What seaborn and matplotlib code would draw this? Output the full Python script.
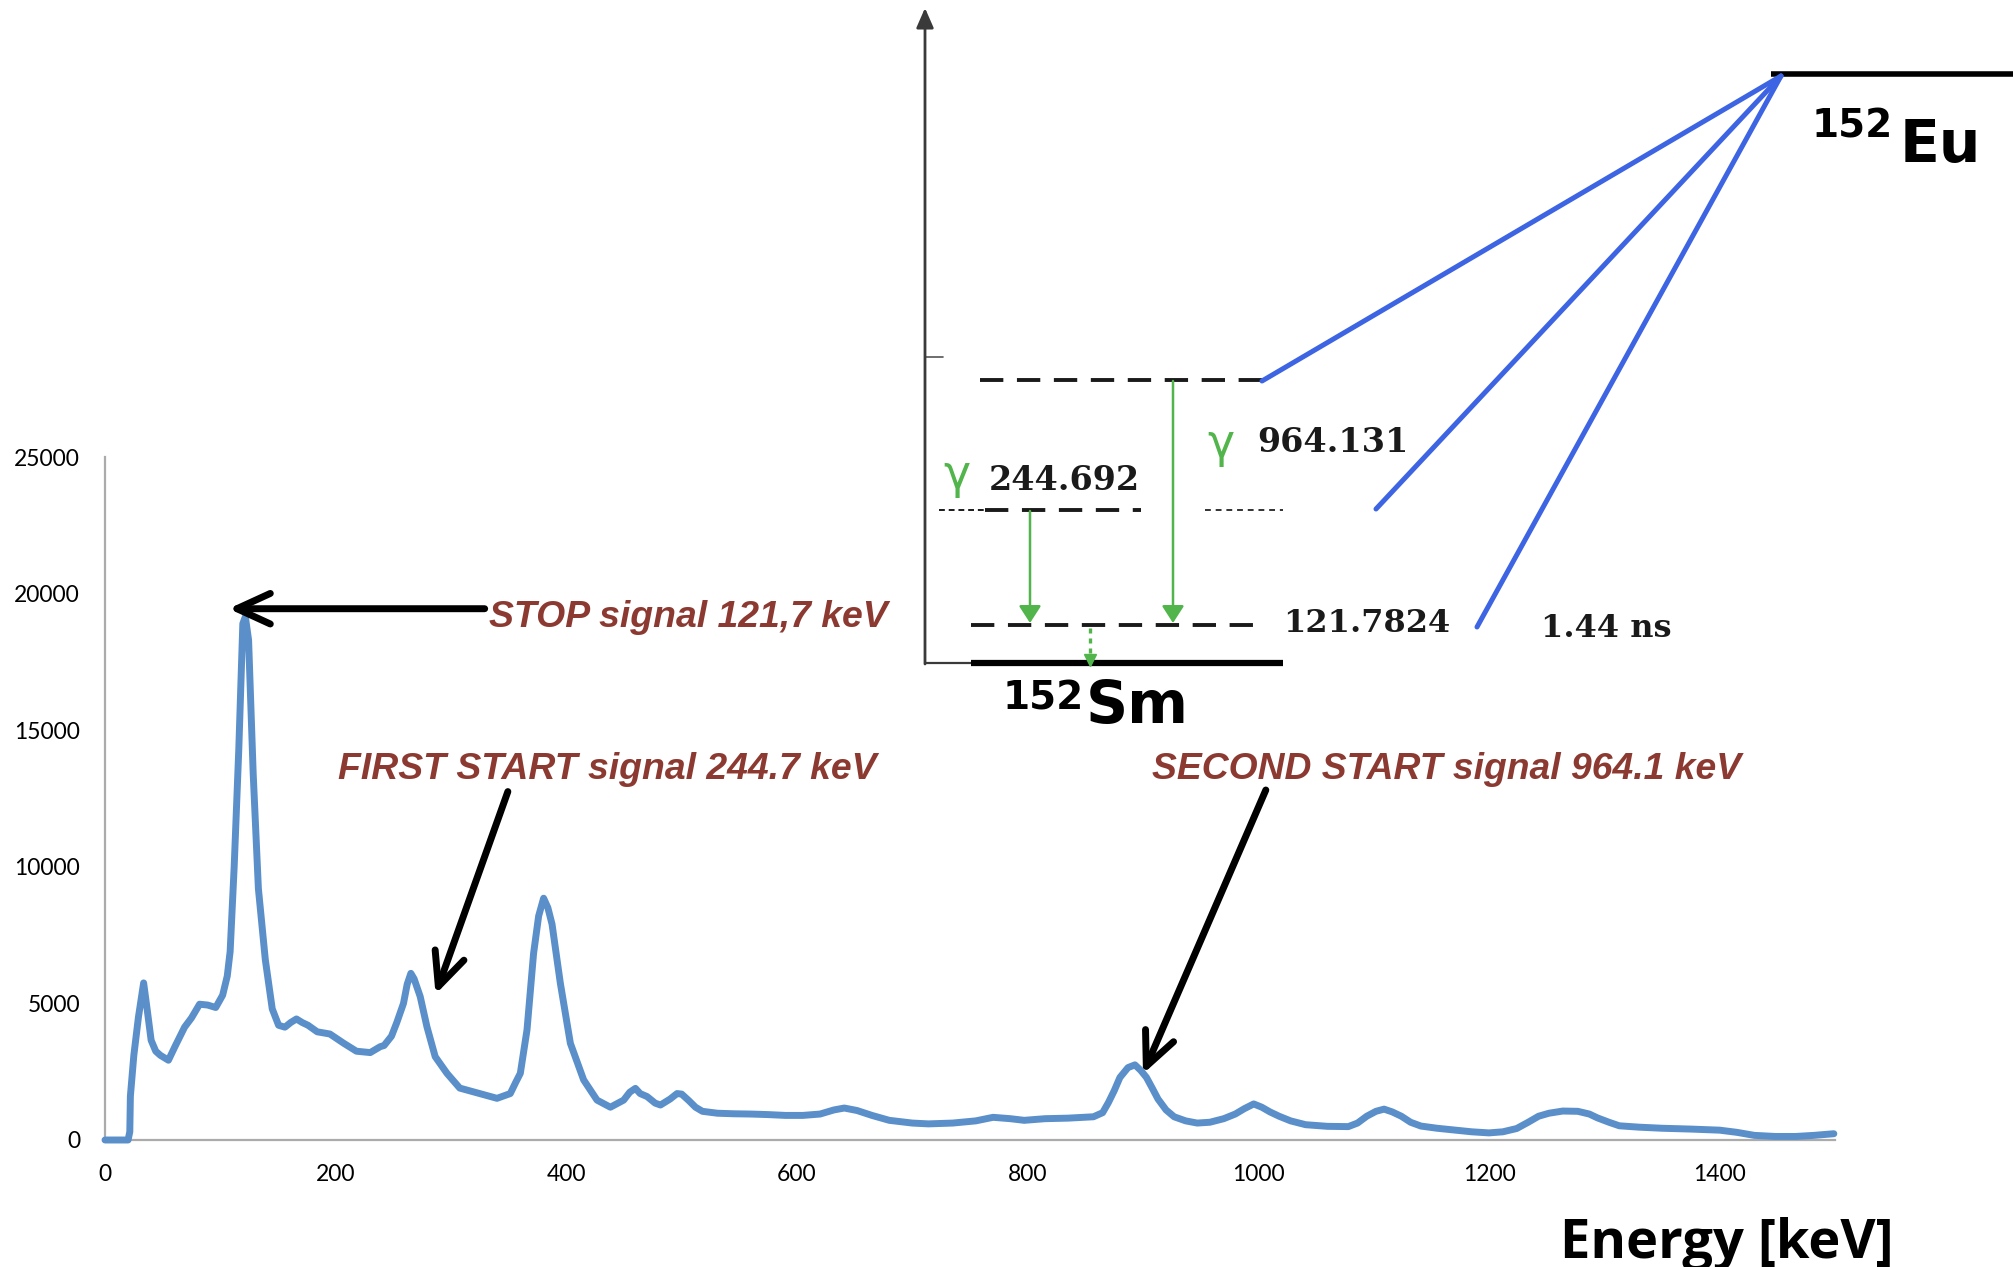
import matplotlib
matplotlib.use("Agg")
import matplotlib.pyplot as plt
import pandas as pd
import seaborn as sns

# ---------------- spectrum data (keV, counts) ----------------
energy_kev = [0, 10, 20, 21.5, 22, 25, 29, 33.5, 36.5, 40, 44, 48, 55, 61, 69, 75, 82,
              89, 96, 102, 106, 108.5, 112, 116, 119.5, 121.7, 124.5, 128.5, 133, 139,
              145, 150.5, 156, 161, 166, 171, 176, 184, 195, 207, 218, 230, 238.6, 242,
              248.4, 253, 258.8, 262, 265.2, 268, 273.3, 279.1, 286.3, 296.5, 307.6, 323,
              339.9, 351.4, 356, 360.1, 365.9, 371.6, 376, 380.3, 384, 387.6, 394.8,
              403.5, 415, 426.6, 438.2, 449.7, 455, 459.9, 464, 470, 477, 481.6, 490,
              496, 500, 506, 512, 518, 531, 545, 560, 575, 590, 605, 620, 632, 641, 652,
              665, 680, 700, 714, 735, 755, 770, 785, 797, 815, 835, 857, 865, 870, 875,
              880, 887, 893, 898, 903, 908, 913, 920, 927, 937, 947, 958, 970, 980, 988,
              996, 1003, 1010, 1018, 1028, 1041, 1060, 1078, 1086, 1094, 1102, 1109,
              1116, 1124, 1132, 1141, 1155, 1171, 1185, 1200, 1212, 1224, 1234, 1243,
              1252, 1264, 1277, 1287, 1294, 1304, 1313, 1330, 1350, 1375, 1400, 1415,
              1430, 1448, 1466, 1482, 1499]
counts = [0, 0, 0, 300, 1600, 3100, 4500, 5750, 4800, 3650, 3250, 3100, 2920, 3450, 4130,
          4470, 4970, 4940, 4850, 5300, 6000, 6900, 10000, 14300, 18900, 19150, 18300,
          13400, 9200, 6600, 4800, 4200, 4130, 4300, 4430, 4300, 4200, 3960, 3880, 3540,
          3250, 3200, 3415, 3460, 3800, 4300, 5000, 5700, 6100, 5900, 5250, 4150, 3050,
          2440, 1900, 1720, 1525, 1700, 2100, 2440, 4030, 6830, 8200, 8850, 8500, 7900,
          5740, 3540, 2200, 1460, 1200, 1460, 1750, 1890, 1700, 1590, 1350, 1280, 1500,
          1700, 1680, 1450, 1200, 1050, 980, 960, 950, 930, 900, 900, 950, 1100, 1170,
          1080, 900, 720, 620, 590, 620, 700, 830, 780, 720, 780, 800, 850, 1000, 1370,
          1800, 2290, 2650, 2750, 2550, 2290, 1900, 1500, 1100, 850, 700, 620, 650, 780,
          950, 1150, 1320, 1200, 1030, 870, 700, 560, 500, 490, 620, 870, 1050, 1130,
          1030, 870, 650, 510, 430, 360, 300, 260, 300, 420, 650, 870, 980, 1060, 1050,
          950, 810, 650, 520, 470, 430, 400, 360, 280, 170, 130, 130, 170, 230]

x_ticks = [0, 200, 400, 600, 800, 1000, 1200, 1400]
y_ticks = [0, 5000, 10000, 15000, 20000, 25000]
x_label = "Energy [keV]"

# callouts: label, text anchor (keV, counts), arrow tail, arrow tip
callout_labels = ["STOP signal 121,7 keV", "FIRST START signal 244.7 keV",
                  "SECOND START signal 964.1 keV"]
callout_text_xy = [(333.3, 18777), (202.2, 13214), (908.1, 13214)]
callout_text_width_px = [399, 539, 589]
arrow_tail = [(329.2, 19447), (349.3, 12753), (1006.5, 12811)]
arrow_tip = [(107.2, 19447), (286.6, 5333), (900.0, 2420)]

# decay scheme texts
gamma_labels = ["244.692", "964.131"]
level_label = "121.7824"
half_life = "1.44 ns"
parent_nuclide = ("152", "Eu")
daughter_nuclide = ("152", "Sm")

# ---------------- style ----------------
sns.set_theme(style="white")
plt.rcParams["font.family"] = ["Lato", "DejaVu Sans"]
plt.rcParams["text.color"] = "black"

W, H, DPI = 2013, 1267, 100
CURVE = "#5A8FCA"
NOTE = "#8C3A31"
SPINE = "#ABABAB"
DECAY_BLUE = "#3D64E2"
GREEN = "#52B54B"

fig = plt.figure(figsize=(W / DPI, H / DPI), dpi=DPI)
fig.patch.set_facecolor("white")

# ---------------- spectrum axes ----------------
ax = fig.add_axes([105 / W, 1 - 1140 / H, 1730 / W, 683 / H])
df = pd.DataFrame({"Energy": energy_kev, "Counts": counts})
sns.lineplot(data=df, x="Energy", y="Counts", ax=ax, color=CURVE, linewidth=5.0,
             estimator=None, sort=False)
for ln in ax.get_lines():
    ln.set_clip_on(False)
    ln.set_zorder(5)
    ln.set_solid_joinstyle("round")

ax.set_xlim(0, 1500)
ax.set_ylim(0, 25000)
ax.set_xticks(x_ticks)
ax.set_yticks(y_ticks)
ax.set_xticklabels([str(v) for v in x_ticks])
ax.set_yticklabels([str(v) for v in y_ticks])
ax.set_xlabel("")
ax.set_ylabel("")
ax.set_facecolor("none")
ax.grid(False)
for side in ("top", "right"):
    ax.spines[side].set_visible(False)
for side in ("left", "bottom"):
    ax.spines[side].set_color(SPINE)
    ax.spines[side].set_linewidth(1.6)
ax.tick_params(axis="both", length=0, labelsize=16.5, labelcolor="black")
ax.tick_params(axis="y", pad=18)
ax.tick_params(axis="x", pad=17)

note_texts = []
for label, (tx, ty) in zip(callout_labels, callout_text_xy):
    t = ax.text(tx, ty, label, color=NOTE, fontsize=27, fontweight="bold",
                fontstyle="italic", family=["Liberation Sans", "DejaVu Sans"],
                ha="left", va="baseline", zorder=6)
    note_texts.append(t)

for tail, tip in zip(arrow_tail, arrow_tip):
    ax.annotate("", xy=tip, xytext=tail, zorder=7,
                arrowprops=dict(arrowstyle="->,head_length=1.2,head_width=0.55",
                                lw=5, color="black", shrinkA=0, shrinkB=0,
                                mutation_scale=20, capstyle="round",
                                joinstyle="round"))

xlab = fig.text(1560 / W, 1 - 1258 / H, x_label, fontsize=46, fontweight="bold",
                color="black", family=["Open Sans", "DejaVu Sans"],
                ha="left", va="baseline")

# ---------------- decay scheme (figure pixel frame) ----------------
dg = fig.add_axes([0, 0, 1, 1], zorder=3)
dg.set_xlim(0, W)
dg.set_ylim(H, 0)
dg.axis("off")

# energy axis with arrow
dg.annotate("", xy=(925, 8), xytext=(925, 664),
            arrowprops=dict(arrowstyle="-|>,head_length=0.8,head_width=0.35",
                            color="#3a3a3a", lw=2, mutation_scale=15,
                            shrinkA=0, shrinkB=0))
dg.plot([925, 943], [357, 357], color="#555555", lw=1.2)
dg.plot([925, 971], [663, 663], color="#3a3a3a", lw=1.6)

# ground state of the daughter and parent level
dg.plot([971, 1283], [663, 663], color="black", lw=4.5, solid_capstyle="butt")
dg.plot([1771, 2013], [74, 74], color="black", lw=4, solid_capstyle="butt")

# excited levels (dashed)
dash = (0, (6, 3.5))
dg.plot([980, 1262], [380, 380], color="#1a1a1a", lw=2.8, ls=dash)
dg.plot([939, 985], [510, 510], color="#1a1a1a", lw=1.4, ls=(0, (3, 2)))
dg.plot([985, 1141], [510, 510], color="#1a1a1a", lw=2.8, ls=dash)
dg.plot([1205, 1283], [510, 510], color="#333333", lw=1.4, ls=(0, (3, 2.5)))
dg.plot([971, 1264], [624.5, 624.5], color="#1a1a1a", lw=2.8, ls=dash)

# beta feeding from the parent
apex = (1781, 76)
for end in [(1262, 381), (1376, 509), (1477, 627)]:
    dg.plot([apex[0], end[0]], [apex[1], end[1]], color=DECAY_BLUE, lw=3.6,
            solid_capstyle="round")

# gamma transitions
for gx, gy0 in [(1030, 511), (1173, 381)]:
    dg.annotate("", xy=(gx, 623), xytext=(gx, gy0),
                arrowprops=dict(arrowstyle="-|>,head_length=0.65,head_width=0.42",
                                color=GREEN, lw=1.8, mutation_scale=16,
                                shrinkA=0, shrinkB=0))
dg.plot([1090, 1090], [628, 654], color=GREEN, lw=2.4, ls=(0, (1.5, 1.5)))
dg.plot([1090], [660], marker="v", color=GREEN, markersize=9, lw=0)

# labels
dg.text(957, 488, "γ", color=GREEN, fontsize=33, ha="center", va="baseline",
        family=["DejaVu Sans"])
dg.text(1221, 457, "γ", color=GREEN, fontsize=33, ha="center", va="baseline",
        family=["DejaVu Sans"])
num_kw = dict(color="#1a1a1a", fontweight="bold", family=["DejaVu Serif"],
              ha="left", va="baseline")
dg.text(989, 490, gamma_labels[0], fontsize=24, **num_kw)
dg.text(1257, 452, gamma_labels[1], fontsize=24, **num_kw)
dg.text(1283, 632, level_label, fontsize=23, **num_kw)
dg.text(1541, 637, half_life, fontsize=23, **num_kw)

nuc_kw = dict(color="black", fontweight="bold", family=["DejaVu Sans"],
              va="baseline")
dg.text(1893, 138, parent_nuclide[0], fontsize=28, ha="right", **nuc_kw)
dg.text(1900, 162, parent_nuclide[1], fontsize=42, ha="left", **nuc_kw)
dg.text(1084, 710, daughter_nuclide[0], fontsize=28, ha="right", **nuc_kw)
dg.text(1086, 723, daughter_nuclide[1], fontsize=42, ha="left", **nuc_kw)

# size callout texts and the axis title to their drawn widths
renderer = fig.canvas.get_renderer()
for _ in range(2):
    for t, wpx in zip(note_texts, callout_text_width_px):
        w = t.get_window_extent(renderer).width
        t.set_fontsize(t.get_fontsize() * wpx / w)
    w = xlab.get_window_extent(renderer).width
    xlab.set_fontsize(xlab.get_fontsize() * 334 / w)

fig.savefig("out.png", dpi=DPI)
